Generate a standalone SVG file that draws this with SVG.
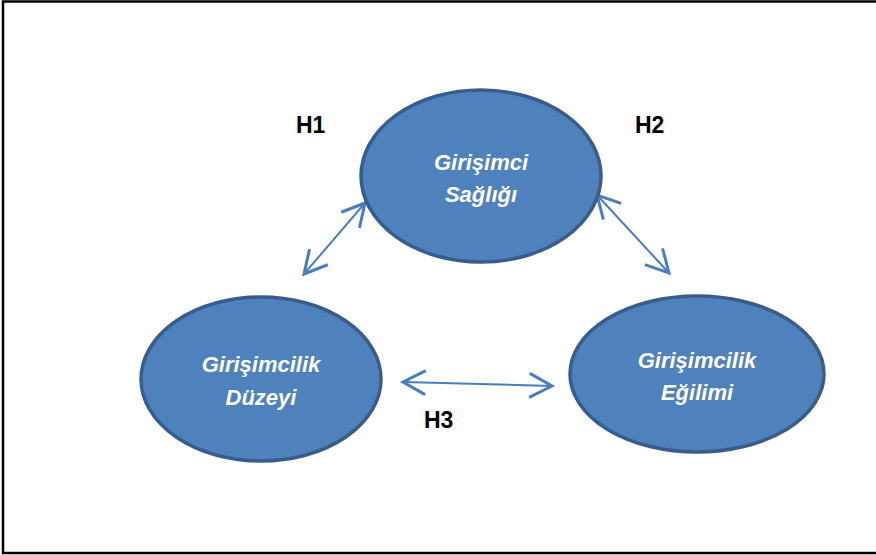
<svg xmlns="http://www.w3.org/2000/svg" width="876" height="555" viewBox="0 0 876 555">
<style>
.node ellipse{fill:#4F81BD;stroke:#385D8A;stroke-width:3.5}
.node text{fill:#FFFFFF;font-family:"Liberation Sans",Arial,sans-serif;font-weight:bold;font-style:italic;font-size:22px;text-anchor:middle}
.lbl{fill:#000;font-family:"Liberation Sans",Arial,sans-serif;font-weight:bold;font-size:23px}
.conn line{stroke:#4A7EBB;stroke-width:2;fill:none;marker-start:url(#ah);marker-end:url(#ah)}
</style>
<defs>
<marker id="ah" markerUnits="userSpaceOnUse" markerWidth="30" markerHeight="30" viewBox="-17 -10 20 20" refX="0" refY="0" orient="auto-start-reverse">
<path d="M -15 -8 L 0 0 L -15 8" fill="none" stroke="#4A7EBB" stroke-width="2"/>
</marker>
</defs>
<rect x="0" y="0" width="876" height="555" fill="#FFFFFF"/>
<path d="M 876 1.5 L 3 1.5 L 3 553 L 876 553" fill="none" stroke="#000" stroke-width="2.5"/>
<g id="connectors" class="conn">
<line x1="304" y1="274" x2="365" y2="203"/>
<line x1="597" y1="195" x2="669" y2="273"/>
<line x1="403" y1="382" x2="552" y2="386"/>
</g>
<g id="node-saglik" class="node">
<ellipse cx="481" cy="176" rx="120" ry="86"/>
<text x="481" y="170">Girişimci</text>
<text x="481" y="202">Sağlığı</text>
</g>
<g id="node-duzey" class="node">
<ellipse cx="261" cy="379" rx="120" ry="82"/>
<text x="261" y="372">Girişimcilik</text>
<text x="261" y="405">Düzeyi</text>
</g>
<g id="node-egilim" class="node">
<ellipse cx="697" cy="374" rx="127" ry="78"/>
<text x="697" y="368">Girişimcilik</text>
<text x="697" y="400">Eğilimi</text>
</g>
<g id="labels">
<text class="lbl" x="296" y="133">H1</text>
<text class="lbl" x="635" y="133">H2</text>
<text class="lbl" x="424" y="428">H3</text>
</g>
</svg>
